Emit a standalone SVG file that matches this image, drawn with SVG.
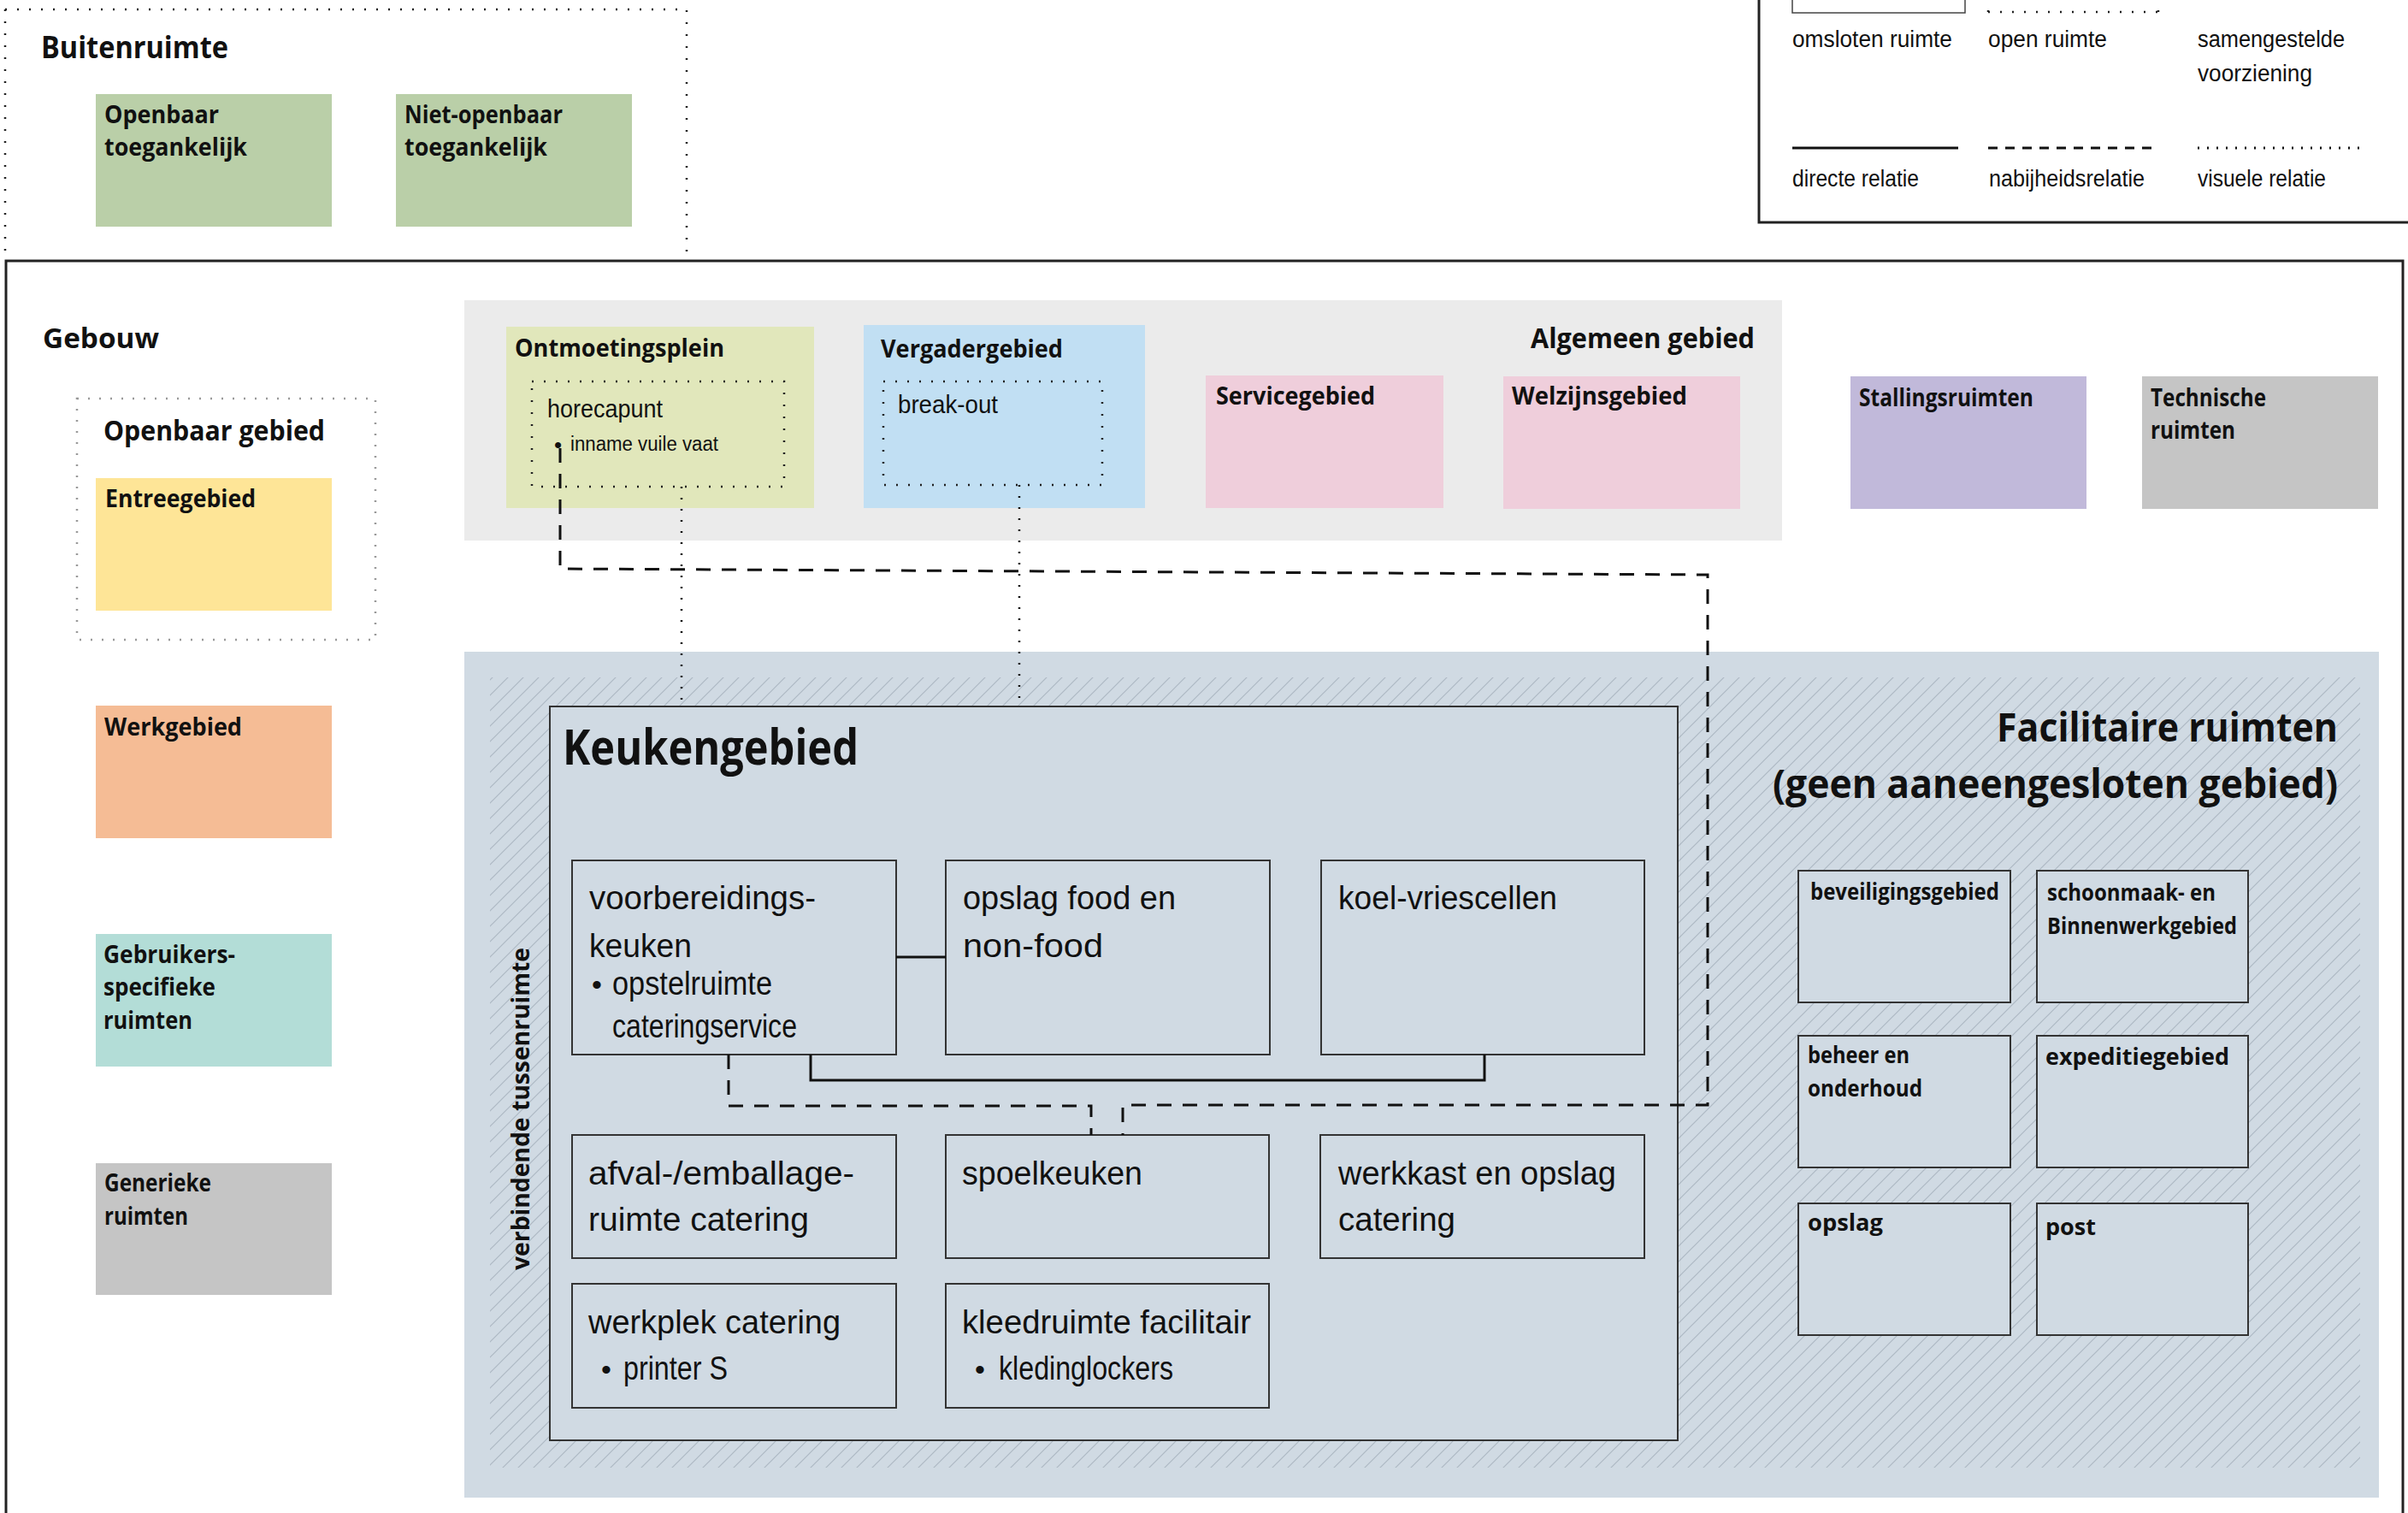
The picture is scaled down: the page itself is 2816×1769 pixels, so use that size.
<svg xmlns="http://www.w3.org/2000/svg" width="2816" height="1769" viewBox="0 0 2816 1769">
<defs>
<style>
.b{font-family:"Open Sans","Liberation Sans",sans-serif;font-weight:700;fill:#111}
.r{font-family:"Liberation Sans","Open Sans",sans-serif;font-weight:400;fill:#111}
.box{fill:#d0dae3;stroke:#333;stroke-width:2}
.dot{fill:none;stroke:#222;stroke-width:2.5;stroke-dasharray:2 12}
.solid{fill:none;stroke:#111;stroke-width:3}
.dash{fill:none;stroke:#111;stroke-width:3;stroke-dasharray:17 13}
.vis{fill:none;stroke:#111;stroke-width:2.5;stroke-dasharray:2 11}
</style>
<pattern id="hatch" patternUnits="userSpaceOnUse" width="18" height="18">
<path d="M0,18 L18,0 M-4.5,4.5 L4.5,-4.5 M13.5,22.5 L22.5,13.5" stroke="#adb8c3" stroke-width="1.2"/>
</pattern>
</defs>
<rect width="2816" height="1769" fill="#fff"/>

<g id="buitenruimte">
<path d="M6,11 H803 V305 M6,11 V305" class="dot" stroke="#333"/>
<text class="b" x="48" y="68" font-size="35" textLength="219" lengthAdjust="spacingAndGlyphs">Buitenruimte</text>
</g>
<g id="openbaar-toegankelijk">
<rect x="112" y="110" width="276" height="155" fill="#bacfa8"/>
<text class="b" x="122" y="144" font-size="28" textLength="134" lengthAdjust="spacingAndGlyphs">Openbaar</text>
<text class="b" x="122" y="182" font-size="28" textLength="167" lengthAdjust="spacingAndGlyphs">toegankelijk</text>
</g>
<g id="niet-openbaar-toegankelijk">
<rect x="463" y="110" width="276" height="155" fill="#bacfa8"/>
<text class="b" x="473" y="144" font-size="28" textLength="185" lengthAdjust="spacingAndGlyphs">Niet-openbaar</text>
<text class="b" x="473" y="182" font-size="28" textLength="167" lengthAdjust="spacingAndGlyphs">toegankelijk</text>
</g>

<g id="legenda">
<rect x="2057" y="-10" width="2755" height="270" fill="none" stroke="#222" stroke-width="3"/>
<rect x="2096" y="-10" width="202" height="25" fill="none" stroke="#444" stroke-width="1.5"/>
<path d="M2325,14 H2524 M2325,14 V-5 M2524,14 V-5" class="dot"/>
<text class="r" x="2096" y="55" font-size="27" textLength="187" lengthAdjust="spacingAndGlyphs">omsloten ruimte</text>
<text class="r" x="2325" y="55" font-size="27" textLength="139" lengthAdjust="spacingAndGlyphs">open ruimte</text>
<text class="r" x="2570" y="55" font-size="27" textLength="172" lengthAdjust="spacingAndGlyphs">samengestelde</text>
<text class="r" x="2570" y="95" font-size="27" textLength="134" lengthAdjust="spacingAndGlyphs">voorziening</text>
<path d="M2096,173 H2290" class="solid"/>
<path d="M2325,173 H2520" fill="none" stroke="#111" stroke-width="3" stroke-dasharray="11 9"/>
<path d="M2570,173 H2765" fill="none" stroke="#111" stroke-width="3" stroke-dasharray="2 9"/>
<text class="r" x="2096" y="218" font-size="27" textLength="148" lengthAdjust="spacingAndGlyphs">directe relatie</text>
<text class="r" x="2326" y="218" font-size="27" textLength="182" lengthAdjust="spacingAndGlyphs">nabijheidsrelatie</text>
<text class="r" x="2570" y="218" font-size="27" textLength="150" lengthAdjust="spacingAndGlyphs">visuele relatie</text>
</g>

<g id="gebouw">
<rect x="7" y="305" width="2803" height="1490" fill="none" stroke="#222" stroke-width="3"/>
<text class="b" x="50" y="407" font-size="33" textLength="136" lengthAdjust="spacingAndGlyphs">Gebouw</text>
</g>

<g id="openbaar-gebied">
<rect x="90" y="466" width="349" height="282" fill="none" stroke="#999" stroke-width="2.5" stroke-dasharray="2 11"/>
<text class="b" x="121" y="515" font-size="33" textLength="259" lengthAdjust="spacingAndGlyphs">Openbaar gebied</text>
</g>
<g id="entreegebied">
<rect x="112" y="559" width="276" height="155" fill="#fee597"/>
<text class="b" x="123" y="593" font-size="28" textLength="176" lengthAdjust="spacingAndGlyphs">Entreegebied</text>
</g>
<g id="werkgebied">
<rect x="112" y="825" width="276" height="155" fill="#f5bc95"/>
<text class="b" x="122" y="860" font-size="28" textLength="161" lengthAdjust="spacingAndGlyphs">Werkgebied</text>
</g>
<g id="gebruikersspecifieke-ruimten">
<rect x="112" y="1092" width="276" height="155" fill="#b3ddd7"/>
<text class="b" x="121" y="1126" font-size="28" textLength="154" lengthAdjust="spacingAndGlyphs">Gebruikers-</text>
<text class="b" x="121" y="1164" font-size="28" textLength="131" lengthAdjust="spacingAndGlyphs">specifieke</text>
<text class="b" x="121" y="1203" font-size="28" textLength="104" lengthAdjust="spacingAndGlyphs">ruimten</text>
</g>
<g id="generieke-ruimten">
<rect x="112" y="1360" width="276" height="154" fill="#c5c5c5"/>
<text class="b" x="122" y="1393" font-size="28" textLength="125" lengthAdjust="spacingAndGlyphs">Generieke</text>
<text class="b" x="122" y="1432" font-size="28" textLength="98" lengthAdjust="spacingAndGlyphs">ruimten</text>
</g>

<g id="algemeen-gebied">
<rect x="543" y="351" width="1541" height="281" fill="#ebebeb"/>
<text class="b" x="1790" y="407" font-size="33" textLength="262" lengthAdjust="spacingAndGlyphs">Algemeen gebied</text>
</g>
<g id="ontmoetingsplein">
<rect x="592" y="382" width="360" height="212" fill="#e1e7bb"/>
<text class="b" x="602" y="417" font-size="28" textLength="245" lengthAdjust="spacingAndGlyphs">Ontmoetingsplein</text>
</g>
<g id="horecapunt">
<rect x="622" y="446" width="295" height="123" class="dot"/>
<text class="r" x="640" y="488" font-size="30" textLength="135" lengthAdjust="spacingAndGlyphs">horecapunt</text>
<text class="r" x="648" y="529" font-size="26">•</text>
<text class="r" x="667" y="527" font-size="23" textLength="173" lengthAdjust="spacingAndGlyphs">inname vuile vaat</text>
</g>
<g id="vergadergebied">
<rect x="1010" y="380" width="329" height="214" fill="#c1dff3"/>
<text class="b" x="1030" y="418" font-size="28" textLength="213" lengthAdjust="spacingAndGlyphs">Vergadergebied</text>
</g>
<g id="break-out">
<rect x="1033" y="446" width="256" height="121" class="dot"/>
<text class="r" x="1050" y="483" font-size="30" textLength="117" lengthAdjust="spacingAndGlyphs">break-out</text>
</g>
<g id="servicegebied">
<rect x="1410" y="439" width="278" height="155" fill="#efcedb"/>
<text class="b" x="1422" y="473" font-size="28" textLength="186" lengthAdjust="spacingAndGlyphs">Servicegebied</text>
</g>
<g id="welzijnsgebied">
<rect x="1758" y="440" width="277" height="155" fill="#efcedb"/>
<text class="b" x="1768" y="473" font-size="28" textLength="205" lengthAdjust="spacingAndGlyphs">Welzijnsgebied</text>
</g>
<g id="stallingsruimten">
<rect x="2164" y="440" width="276" height="155" fill="#c1b9da"/>
<text class="b" x="2174" y="475" font-size="28" textLength="204" lengthAdjust="spacingAndGlyphs">Stallingsruimten</text>
</g>
<g id="technische-ruimten">
<rect x="2505" y="440" width="276" height="155" fill="#c5c5c5"/>
<text class="b" x="2515" y="475" font-size="28" textLength="135" lengthAdjust="spacingAndGlyphs">Technische</text>
<text class="b" x="2515" y="513" font-size="28" textLength="99" lengthAdjust="spacingAndGlyphs">ruimten</text>
</g>

<g id="facilitaire-ruimten">
<rect x="543" y="762" width="2239" height="989" fill="#d0dae3"/>
<rect x="573" y="792" width="2187" height="924" fill="url(#hatch)"/>
<text class="b" x="2734" y="867" font-size="46" text-anchor="end" textLength="399" lengthAdjust="spacingAndGlyphs">Facilitaire ruimten</text>
<text class="b" x="2734" y="933" font-size="46" text-anchor="end" textLength="661" lengthAdjust="spacingAndGlyphs">(geen aaneengesloten gebied)</text>
<text class="b" transform="translate(619,1485) rotate(-90)" font-size="28" textLength="377" lengthAdjust="spacingAndGlyphs">verbindende tussenruimte</text>
</g>

<g id="keukengebied">
<rect x="643" y="826" width="1319" height="858" class="box"/>
<text class="b" x="658" y="894" font-size="57" textLength="346" lengthAdjust="spacingAndGlyphs">Keukengebied</text>
</g>
<g id="voorbereidingskeuken">
<rect x="669" y="1006" width="379" height="227" class="box"/>
<text class="r" x="689" y="1063" font-size="38" textLength="265" lengthAdjust="spacingAndGlyphs">voorbereidings-</text>
<text class="r" x="689" y="1119" font-size="38" textLength="120" lengthAdjust="spacingAndGlyphs">keuken</text>
<text class="r" x="692" y="1163" font-size="34">•</text>
<text class="r" x="716" y="1163" font-size="38" textLength="187" lengthAdjust="spacingAndGlyphs">opstelruimte</text>
<text class="r" x="716" y="1213" font-size="38" textLength="216" lengthAdjust="spacingAndGlyphs">cateringservice</text>
</g>
<g id="opslag-food">
<rect x="1106" y="1006" width="379" height="227" class="box"/>
<text class="r" x="1126" y="1063" font-size="38" textLength="249" lengthAdjust="spacingAndGlyphs">opslag food en</text>
<text class="r" x="1126" y="1119" font-size="38" textLength="164" lengthAdjust="spacingAndGlyphs">non-food</text>
</g>
<g id="koel-vriescellen">
<rect x="1545" y="1006" width="378" height="227" class="box"/>
<text class="r" x="1565" y="1063" font-size="38" textLength="256" lengthAdjust="spacingAndGlyphs">koel-vriescellen</text>
</g>
<g id="afval-emballageruimte">
<rect x="669" y="1327" width="379" height="144" class="box"/>
<text class="r" x="688" y="1385" font-size="38" textLength="311" lengthAdjust="spacingAndGlyphs">afval-/emballage-</text>
<text class="r" x="688" y="1439" font-size="38" textLength="258" lengthAdjust="spacingAndGlyphs">ruimte catering</text>
</g>
<g id="spoelkeuken">
<rect x="1106" y="1327" width="378" height="144" class="box"/>
<text class="r" x="1125" y="1385" font-size="38" textLength="211" lengthAdjust="spacingAndGlyphs">spoelkeuken</text>
</g>
<g id="werkkast-opslag">
<rect x="1544" y="1327" width="379" height="144" class="box"/>
<text class="r" x="1565" y="1385" font-size="38" textLength="325" lengthAdjust="spacingAndGlyphs">werkkast en opslag</text>
<text class="r" x="1565" y="1439" font-size="38" textLength="137" lengthAdjust="spacingAndGlyphs">catering</text>
</g>
<g id="werkplek-catering">
<rect x="669" y="1501" width="379" height="145" class="box"/>
<text class="r" x="688" y="1559" font-size="38" textLength="295" lengthAdjust="spacingAndGlyphs">werkplek catering</text>
<text class="r" x="703" y="1613" font-size="34">•</text>
<text class="r" x="729" y="1613" font-size="38" textLength="122" lengthAdjust="spacingAndGlyphs">printer S</text>
</g>
<g id="kleedruimte-facilitair">
<rect x="1106" y="1501" width="378" height="145" class="box"/>
<text class="r" x="1125" y="1559" font-size="38" textLength="338" lengthAdjust="spacingAndGlyphs">kleedruimte facilitair</text>
<text class="r" x="1140" y="1613" font-size="34">•</text>
<text class="r" x="1168" y="1613" font-size="38" textLength="204" lengthAdjust="spacingAndGlyphs">kledinglockers</text>
</g>

<g id="beveiligingsgebied">
<rect x="2103" y="1018" width="248" height="154" class="box"/>
<text class="b" x="2117" y="1052" font-size="26" textLength="221" lengthAdjust="spacingAndGlyphs">beveiligingsgebied</text>
</g>
<g id="schoonmaak-binnenwerkgebied">
<rect x="2382" y="1018" width="247" height="154" class="box"/>
<text class="b" x="2394" y="1053" font-size="26" textLength="197" lengthAdjust="spacingAndGlyphs">schoonmaak- en</text>
<text class="b" x="2394" y="1092" font-size="26" textLength="222" lengthAdjust="spacingAndGlyphs">Binnenwerkgebied</text>
</g>
<g id="beheer-onderhoud">
<rect x="2103" y="1211" width="248" height="154" class="box"/>
<text class="b" x="2114" y="1243" font-size="26" textLength="119" lengthAdjust="spacingAndGlyphs">beheer en</text>
<text class="b" x="2114" y="1282" font-size="26" textLength="134" lengthAdjust="spacingAndGlyphs">onderhoud</text>
</g>
<g id="expeditiegebied">
<rect x="2382" y="1211" width="247" height="154" class="box"/>
<text class="b" x="2392" y="1245" font-size="26" textLength="215" lengthAdjust="spacingAndGlyphs">expeditiegebied</text>
</g>
<g id="opslag">
<rect x="2103" y="1407" width="248" height="154" class="box"/>
<text class="b" x="2114" y="1439" font-size="26" textLength="88" lengthAdjust="spacingAndGlyphs">opslag</text>
</g>
<g id="post">
<rect x="2382" y="1407" width="247" height="154" class="box"/>
<text class="b" x="2392" y="1444" font-size="26" textLength="59" lengthAdjust="spacingAndGlyphs">post</text>
</g>

<g id="connectors">
<path d="M1048,1119 H1106" class="solid"/>
<path d="M948,1233 V1263 H1736 V1233" class="solid"/>
<path d="M655,524 V665 L1997,672 V1292 H1313 V1327" class="dash"/>
<path d="M852,1233 V1293 H1276 V1327" class="dash"/>
<path d="M797,569 V826" class="vis"/>
<path d="M1192,567 V826" class="vis"/>
</g>
</svg>
